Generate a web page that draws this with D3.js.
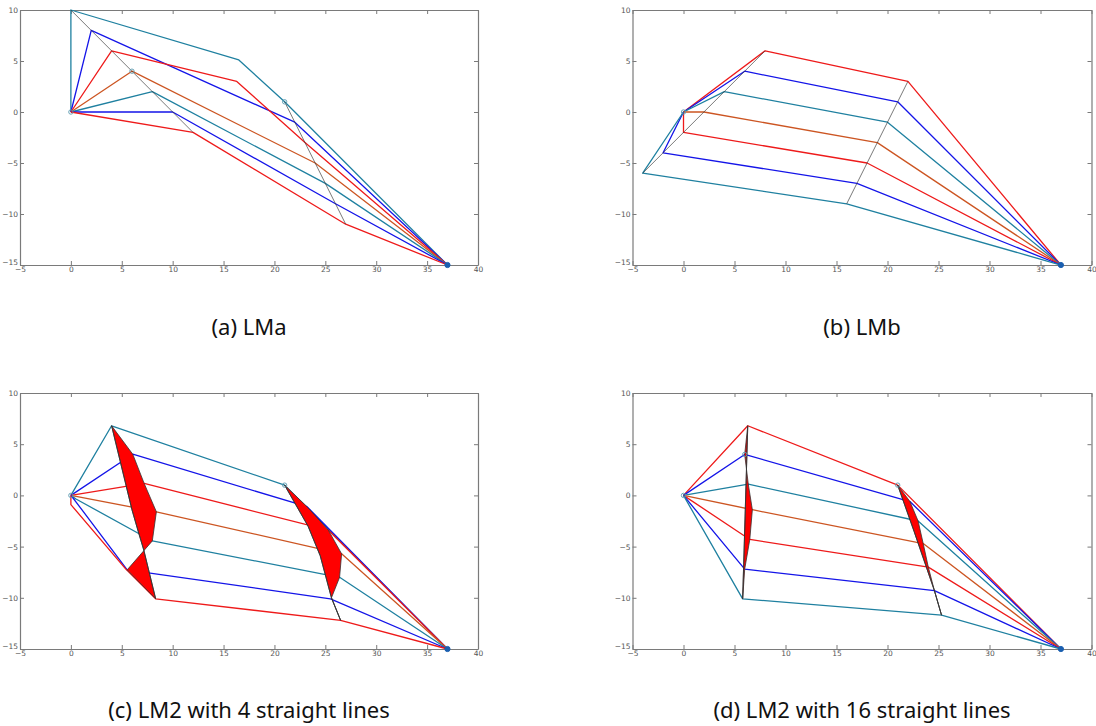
<!DOCTYPE html>
<html><head><meta charset="utf-8">
<script src="https://cdn.jsdelivr.net/npm/d3@7"></script>
<style>body{margin:0;background:#fff}svg{display:block}</style>
</head><body><svg id="chart" width="1096" height="726"></svg>
<script>
// ---------- data ----------
const xTicks = [-5, 0, 5, 10, 15, 20, 25, 30, 35, 40];
const yTicks = [-15, -10, -5, 0, 5, 10];
const xDomain = [-5, 40];
const yDomain = [-15, 10];
const start = [0, 0];
const goal = [37, -15];

const captions = ["(a) LMa", "(b) LMb", "(c) LM2 with 4 straight lines", "(d) LM2 with 16 straight lines"];

// (a) LMa
const colorsA = ["teal", "blue", "red", "orange", "teal", "blue", "red"];
const pathsA = [
  [[0,0],[0,10],[16.5,5.1],[21,1],[37,-15]],
  [[0,0],[2,8],[22,-1],[37,-15]],
  [[0,0],[4,6],[16.3,3],[23,-3],[37,-15]],
  [[0,0],[6,4],[24,-5],[37,-15]],
  [[0,0],[8,2],[25,-7],[37,-15]],
  [[0,0],[10,0],[26,-9],[37,-15]],
  [[0,0],[12,-2],[27,-11],[37,-15]]
];
const guidesA = [[[0,10],[12,-2]], [[21,1],[27,-11]]];
const markersA = [[21,1],[6,4]];

// (b) LMb
const colorsB = ["red", "blue", "teal", "orange", "red", "blue", "teal"];
const pathsB = [
  [[0,0],[8,6],[22,3],[37,-15]],
  [[0,0],[6,4],[21,1],[37,-15]],
  [[0,0],[4,2],[20,-1],[37,-15]],
  [[0,0],[2,0],[19,-3],[37,-15]],
  [[0,0],[0,-2],[18,-5],[37,-15]],
  [[0,0],[-2,-4],[17,-7],[37,-15]],
  [[0,0],[-4,-6],[16,-9],[37,-15]]
];
const guidesB = [[[-4,-6],[8,6]], [[16,-9],[22,3]]];
const markersB = [];

// (c) LM2 with 4 straight lines
const colorsC = ["teal", "blue", "red", "orange", "teal", "blue", "red"];
const pathsC = [
  [[0,0],[4,6.8],[21,1],[37,-15]],
  [[0,0],[6.08,4.02],[23.2,-1.1],[37,-15]],
  [[0,0],[7.2,1.17],[25.3,-3.4],[37,-15]],
  [[0,0],[8.4,-1.6],[26.6,-5.7],[37,-15]],
  [[0,0],[0.5,-0.35],[8,-4.45],[26.4,-8],[37,-15]],
  [[0,0],[0.4,-0.5],[5.53,-7.27],[25.5,-10.1],[37,-15]],
  [[0,0],[0,-0.9],[5.4,-7.2],[8.33,-10.1],[26.5,-12.2],[37,-15]]
];
const approxC1 = [[4,6.8],[6.08,4.02],[7.2,1.17],[8.4,-1.6],[8,-4.45],[5.53,-7.27],[8.33,-10.1]];
const trueC1 = [[4,6.8],[6.0,-1.4],[6.67,-3.7],[7.16,-5.33],[8.33,-10.1]];
const approxC2 = [[21,1],[23.2,-1.1],[25.3,-3.4],[26.6,-5.7],[26.4,-8],[25.6,-10],[26.5,-12.2]];
const trueC2 = [[21,1],[23.3,-3],[24.5,-5.9],[25.6,-10],[26.5,-12.2]];
const markersC = [[21,1]];

// (d) LM2 with 16 straight lines
const colorsD = ["red", "blue", "teal", "orange", "red", "blue", "teal"];
const pathsD = [
  [[0,0],[6.3,6.8],[21,1],[37,-15]],
  [[0,0],[6.0,4],[22.2,-0.6],[37,-15]],
  [[0,0],[6.35,1.1],[23,-2.5],[37,-15]],
  [[0,0],[6.75,-1.4],[23.5,-4.7],[37,-15]],
  [[0,0],[6.5,-4.3],[24,-7],[37,-15]],
  [[0,0],[6,-7.2],[24.6,-9.3],[37,-15]],
  [[0,0],[5.8,-10.1],[25.3,-11.7],[37,-15]]
];
const approxD1 = [[6.3,6.8],[6.0,4],[6.35,1.1],[6.75,-1.4],[6.5,-4.3],[6,-7.2],[5.8,-10.1]];
const trueD1 = [[6.3,6.8],[5.8,-10.1]];
const approxD2 = [[21,1],[22.2,-0.6],[23,-2.5],[23.5,-4.7],[24,-7],[24.6,-9.3],[25.3,-11.7]];
const trueD2 = [[21,1],[22.6,-3.5],[24.6,-9.3],[25.3,-11.7]];
const markersD = [[21,1],[6.0,4]];

// ---------- drawing ----------
const palette = {teal: "#1f80a0", blue: "#1414e8", red: "#ee1a1a", orange: "#cc5522"};
const svg = d3.select("#chart");
const font = "'Noto Sans', 'Open Sans', sans-serif";

const panels = [
  {box: [20, 478, 10, 265], paths: pathsA, colors: colorsA, guides: guidesA, markers: markersA, fills: []},
  {box: [632.5, 1091.5, 10, 265], paths: pathsB, colors: colorsB, guides: guidesB, markers: markersB, fills: []},
  {box: [20, 478, 393, 649], paths: pathsC, colors: colorsC, guides: [], markers: markersC,
    fills: [[approxC1, trueC1], [approxC2, trueC2]]},
  {box: [632.5, 1091.5, 393, 649], paths: pathsD, colors: colorsD, guides: [], markers: markersD,
    fills: [[approxD1, trueD1], [approxD2, trueD2]]}
];

panels.forEach((p, i) => {
  const [L, R, T, B] = p.box;
  const x = d3.scaleLinear().domain(xDomain).range([L, R]);
  const y = d3.scaleLinear().domain(yDomain).range([B, T]);
  const g = svg.append("g");
  const line = d3.line().x(d => x(d[0])).y(d => y(d[1]));

  // axes
  const axCol = "#7a7a7a";
  const styleAxis = (sel) => {
    sel.select(".domain").attr("stroke", axCol).attr("stroke-width", 1.2);
    sel.selectAll(".tick line").attr("stroke", axCol);
    sel.selectAll(".tick text").attr("fill", "#555").style("font-family", "'DejaVu Sans', sans-serif").style("font-size", "7.5px");
  };
  g.append("g").attr("transform", `translate(0,${B})`)
    .call(d3.axisBottom(x).tickValues(xTicks).tickSizeInner(-4).tickSizeOuter(0).tickPadding(2).tickFormat(d3.format("d")))
    .call(styleAxis);
  g.append("g").attr("transform", `translate(0,${T})`)
    .call(d3.axisTop(x).tickValues(xTicks).tickSizeInner(-4).tickSizeOuter(0).tickFormat(""))
    .call(styleAxis);
  g.append("g").attr("transform", `translate(${L},0)`)
    .call(d3.axisLeft(y).tickValues(yTicks).tickSizeInner(-4).tickSizeOuter(0).tickPadding(2).tickFormat(d3.format("d")))
    .call(styleAxis)
    .selectAll(".tick text").filter(d => d === yDomain[0]).attr("dy", "-0.1em");
  g.append("g").attr("transform", `translate(${R},0)`)
    .call(d3.axisRight(y).tickValues(yTicks).tickSizeInner(-4).tickSizeOuter(0).tickFormat(""))
    .call(styleAxis);

  // paths
  p.paths.forEach((pts, k) => {
    g.append("path").attr("d", line(pts)).attr("fill", "none")
      .attr("stroke", palette[p.colors[k]]).attr("stroke-width", 1.3).attr("stroke-linejoin", "round");
  });

  // guide lines
  p.guides.forEach(seg => {
    g.append("path").attr("d", line(seg)).attr("fill", "none").attr("stroke", "#3a3a3a").attr("stroke-width", 0.8).attr("opacity", 0.85);
  });

  // obstacle fills
  p.fills.forEach(([appr, tru]) => {
    const poly = appr.concat(tru.slice(1, -1).reverse());
    g.append("path").attr("d", line(poly) + "Z").attr("fill", "#ff0000").attr("fill-rule", "evenodd")
      .attr("stroke", "#333").attr("stroke-width", 0.8);
    g.append("path").attr("d", line(tru)).attr("fill", "none").attr("stroke", "#333").attr("stroke-width", 0.8);
  });

  // markers
  p.markers.forEach(m => {
    g.append("circle").attr("cx", x(m[0])).attr("cy", y(m[1])).attr("r", 2.2)
      .attr("fill", "none").attr("stroke", "#5a9ab0").attr("stroke-width", 0.9);
  });
  g.append("circle").attr("cx", x(start[0])).attr("cy", y(start[1])).attr("r", 2.2)
    .attr("fill", "none").attr("stroke", "#5a9ab0").attr("stroke-width", 0.9);
  g.append("circle").attr("cx", x(goal[0])).attr("cy", y(goal[1])).attr("r", 2.6)
    .attr("fill", "#1a5fb0").attr("stroke", "#1a5fb0");

  // caption
  svg.append("text").attr("x", (L + R) / 2).attr("y", i < 2 ? 335 : 718)
    .attr("text-anchor", "middle").style("font-family", font).style("font-size", "22px")
    .attr("fill", "#111").text(captions[i]);
});
</script></body></html>
